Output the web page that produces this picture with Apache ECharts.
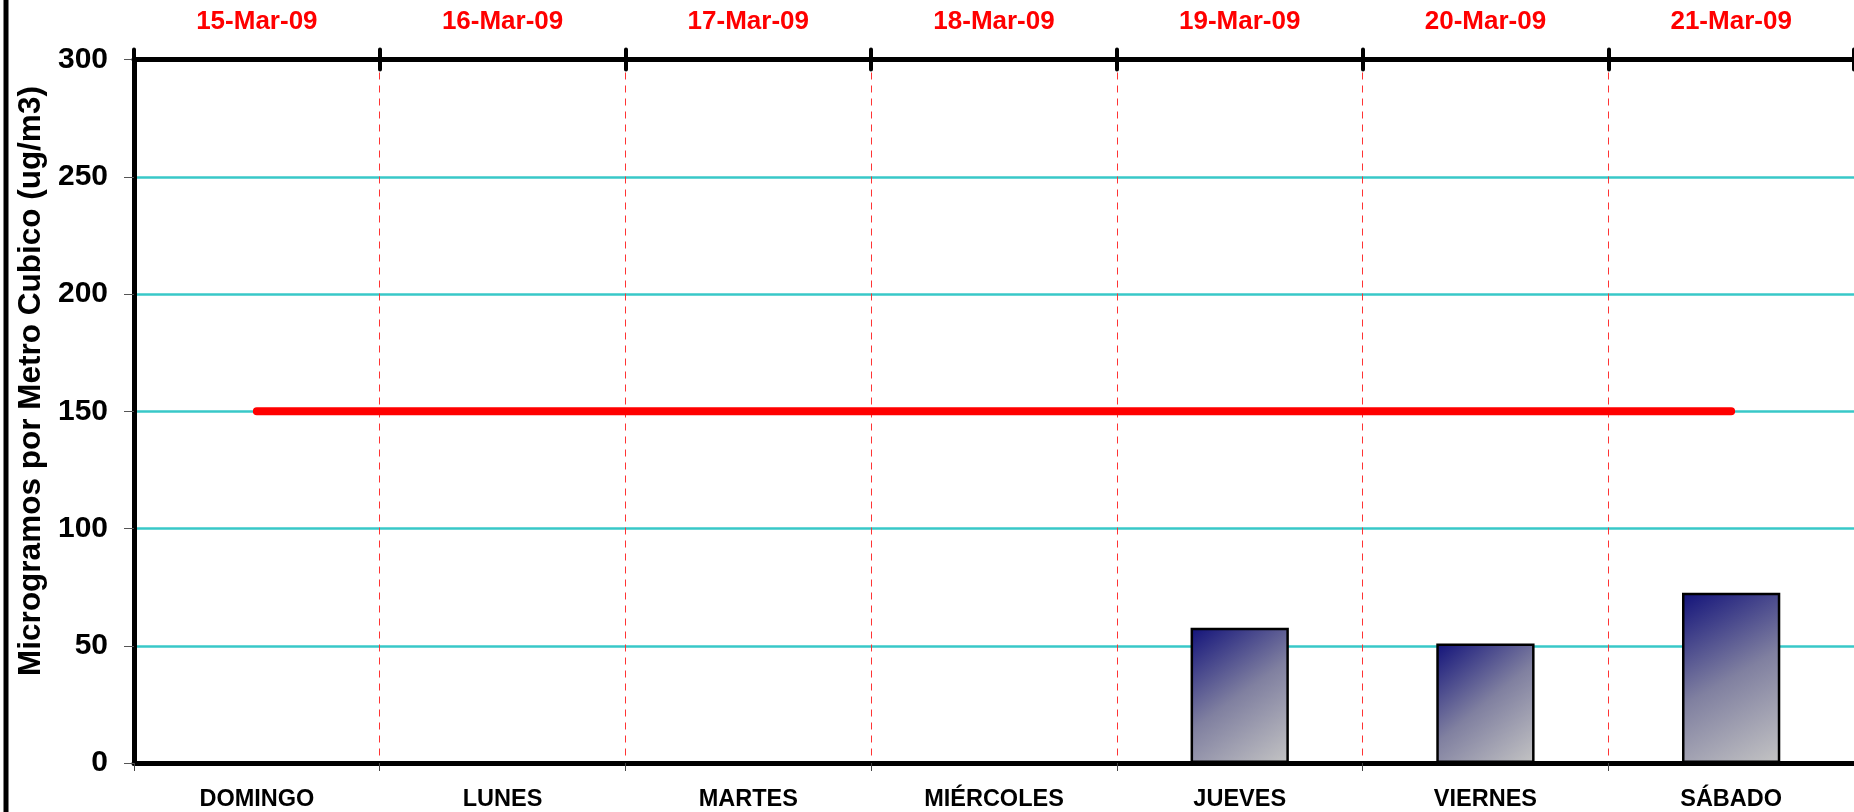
<!DOCTYPE html>
<html>
<head>
<meta charset="utf-8">
<script src="https://cdn.jsdelivr.net/npm/echarts@6/dist/echarts.min.js"></script>
<style>
html,body{margin:0;padding:0;background:#fff;}
#chart{width:1854px;height:812px;}
</style>
</head>
<body>
<div id="chart"></div>
<script>
const days = ['DOMINGO', 'LUNES', 'MARTES', 'MIÉRCOLES', 'JUEVES', 'VIERNES', 'SÁBADO'];
const dates = ['15-Mar-09', '16-Mar-09', '17-Mar-09', '18-Mar-09', '19-Mar-09', '20-Mar-09', '21-Mar-09'];
const pm10 = [null, null, null, null, 57.7, 51.0, 72.6];
const limit = [150, 150, 150, 150, 150, 150, 150];
const yTicks = { min: 0, max: 300, interval: 50 };
const yTitle = 'Microgramos por Metro Cubico (ug/m3)';

const FONT = '"Liberation Sans", Arial, sans-serif';
const chart = echarts.init(document.getElementById('chart'), null, { renderer: 'canvas' });

chart.setOption({
  backgroundColor: '#ffffff',
  animation: false,
  grid: { left: 134, right: -3, top: 59.5, bottom: 49, containLabel: false },
  xAxis: [
    {
      type: 'category', position: 'bottom', data: days,
      boundaryGap: true,
      axisLine: { show: true, lineStyle: { color: '#000', width: 5 } },
      axisTick: { show: true, length: 8, lineStyle: { color: '#444', width: 1 } },
      axisLabel: { color: '#000', fontFamily: FONT, fontWeight: 'bold', fontSize: 23.5, margin: 25 },
      splitLine: { show: false }
    },
    {
      type: 'category', position: 'top', data: dates,
      boundaryGap: true,
      axisLine: { show: true, lineStyle: { color: '#000', width: 5 } },
      axisTick: { show: true, inside: false, length: 10, lineStyle: { color: '#000', width: 4, cap: 'round' } },
      axisLabel: { color: '#ff0000', fontFamily: FONT, fontWeight: 'bold', fontSize: 26, margin: 25 },
      splitLine: { show: true, lineStyle: { color: '#ff3333', width: 1, type: [7, 6] } }
    },
    {
      type: 'category', position: 'top', data: dates,
      boundaryGap: true,
      axisLine: { show: false },
      axisTick: { show: true, inside: true, length: 10, lineStyle: { color: '#000', width: 4, cap: 'round' } },
      axisLabel: { show: false },
      splitLine: { show: false }
    }
  ],
  yAxis: {
    type: 'value', min: yTicks.min, max: yTicks.max, interval: yTicks.interval,
    axisLine: { show: true, lineStyle: { color: '#000', width: 5 } },
    axisTick: { show: true, length: 10, lineStyle: { color: '#555', width: 1 } },
    axisLabel: { color: '#000', fontFamily: FONT, fontWeight: 'bold', fontSize: 30, margin: 26 },
    splitLine: { show: true, lineStyle: { color: '#38c8c8', width: 2.5 } }
  },
  series: [
    {
      type: 'bar', xAxisIndex: 0, data: pm10, barWidth: '40%',
      itemStyle: {
        borderColor: '#000', borderWidth: 2.5,
        color: new echarts.graphic.LinearGradient(0, 0, 1, 1, [
          { offset: 0, color: '#12127a' },
          { offset: 0.5, color: '#8080a0' },
          { offset: 1, color: '#c4c4c4' }
        ])
      },
      z: 3
    },
    {
      type: 'line', xAxisIndex: 0, data: limit, symbol: 'none',
      lineStyle: { color: '#ff0000', width: 8, cap: 'round' },
      z: 4
    }
  ],
  graphic: [
    {
      type: 'line', shape: { x1: 6, y1: 0, x2: 6, y2: 812 },
      style: { stroke: '#000', lineWidth: 5 }, z: 10
    },
    {
      type: 'text', x: 31, y: 381, rotation: Math.PI / 2,
      style: {
        text: yTitle, font: 'bold 31.5px ' + FONT, fill: '#000',
        align: 'center', verticalAlign: 'middle'
      }, z: 10
    }
  ]
});
</script>
</body>
</html>
